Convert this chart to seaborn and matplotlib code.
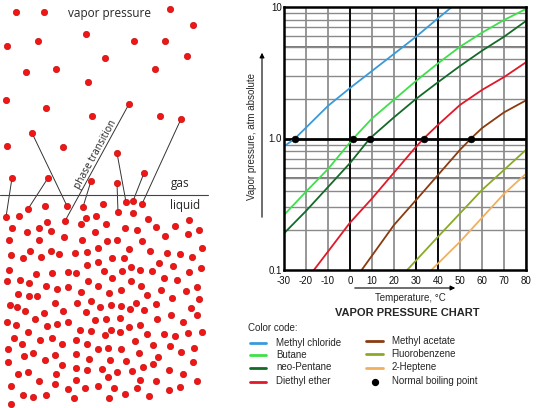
import numpy as np
import pandas as pd
import matplotlib
matplotlib.use("Agg")
import matplotlib.pyplot as plt
import seaborn as sns
from matplotlib.ticker import FixedLocator, NullFormatter

sns.set_theme(style="white")
plt.rcParams["font.family"] = ["Liberation Sans", "DejaVu Sans"]

# ---------------- left panel: molecules (pixel coordinates of the picture) -------------
gas_x = [16, 44, 170, 193, 7, 38, 86, 134, 165, 187, 105, 26, 56, 155, 88, 6, 46, 129, 92,
         160, 181, 32, 7, 63, 117, 144, 12, 48, 91, 117]
gas_y = [12, 12, 9, 25, 46, 41, 34, 41, 41, 56, 58, 72, 69, 69, 82, 100, 108, 104, 116,
         116, 119, 133, 146, 147, 153, 173, 178, 178, 181, 183]

liq_x = [6, 19, 28, 45, 67, 83, 103, 126, 133, 142, 118, 133, 65, 86, 96, 81, 47, 12, 27, 39,
         51, 64, 82, 95, 106, 125, 137, 148, 156, 165, 175, 189, 188, 199, 9, 39, 107, 117, 142,
         11, 23, 30, 41, 51, 59, 75, 87, 98, 129, 112, 124, 150, 167, 180, 192, 202, 9, 36, 52,
         68, 76, 87, 98, 104, 112, 122, 131, 140, 152, 159, 173, 189, 201, 7, 20, 29, 46, 57, 68,
         81, 88, 98, 109, 121, 131, 141, 147, 161, 164, 177, 186, 197, 199, 18, 29, 37, 172,
         10, 17, 25, 55, 77, 91, 100, 111, 121, 130, 136, 144, 156, 191, 7, 16, 35, 44, 63, 86,
         47, 57, 68, 95, 106, 120, 129, 140, 157, 171, 183, 197, 14, 28, 22, 40, 52, 62, 80, 91,
         105, 111, 120, 135, 147, 164, 175, 188, 202, 8, 24, 33, 45, 55, 76, 87, 98, 108, 121,
         139, 153, 158, 170, 181, 194, 8, 18, 28, 39, 56, 62, 76, 76, 89, 87, 102, 110, 117, 108,
         126, 132, 143, 153, 140, 156, 169, 183, 193, 197, 11, 23, 33, 46, 55, 68, 74, 76, 85,
         98, 114, 109, 125, 137, 149, 169, 180, 11]
liq_y = [217, 216, 209, 206, 206, 207, 204, 202, 201, 204, 212, 213, 221, 218, 216, 224, 222,
         228, 232, 228, 231, 237, 240, 232, 224, 228, 230, 219, 227, 236, 226, 220, 234, 230,
         240, 240, 241, 240, 241, 255, 258, 251, 257, 251, 254, 253, 252, 248, 249, 258, 258,
         251, 253, 254, 257, 248, 270, 274, 273, 272, 273, 265, 262, 271, 278, 271, 267, 270,
         271, 263, 266, 272, 268, 281, 280, 283, 286, 289, 287, 292, 281, 286, 293, 290, 281,
         286, 295, 290, 278, 280, 291, 287, 299, 294, 296, 296, 298, 305, 307, 311, 303, 303,
         301, 307, 305, 306, 309, 303, 310, 304, 308, 322, 325, 319, 313, 311, 312, 326, 324,
         322, 320, 319, 318, 327, 325, 319, 315, 322, 315, 338, 332, 344, 340, 338, 344, 330,
         331, 335, 330, 332, 341, 334, 334, 336, 333, 332, 349, 356, 353, 360, 355, 340, 344,
         349, 348, 349, 353, 345, 357, 346, 352, 348, 362, 374, 372, 381, 374, 365, 354, 368,
         359, 370, 369, 360, 372, 377, 361, 371, 367, 364, 380, 381, 370, 374, 362, 381, 386,
         395, 397, 395, 384, 389, 398, 380, 388, 386, 388, 398, 394, 388, 396, 390, 387, 404]

# connectors from vapour molecules to the surface: (x0, y0, x1, y1)
link_x0 = [32, 12, 48, 129, 91, 117, 117, 144, 181]
link_y0 = [133, 178, 178, 104, 181, 153, 183, 173, 119]
link_x1 = [67, 6, 28, 65, 83, 126, 118, 133, 142]
link_y1 = [206, 217, 209, 221, 207, 202, 212, 201, 204]

# ---------------- right panel: vapor pressure chart --------------------------------------
substances = ["Methyl chloride", "Butane", "neo-Pentane", "Diethyl ether",
              "Methyl acetate", "Fluorobenzene", "2-Heptene"]
colors = ["#3a9ad9", "#3ee04a", "#146a28", "#e0182a", "#8a3b10", "#8aaa26", "#f0b060"]

mc_T = [-30, -25, -10, 0, 20, 30, 40, 46.3]
mc_P = [0.87, 1.0, 1.77, 2.42, 4.4, 5.94, 8.2, 10.0]
bu_T = [-30, -20, -10, 1.5, 10, 30, 40, 50, 60, 70, 80]
bu_P = [0.262, 0.394, 0.586, 1.0, 1.42, 2.74, 3.73, 4.99, 6.38, 7.96, 9.66]
np_T = [-30, -20, 0, 9, 20, 30, 40, 50, 60, 70, 80]
np_P = [0.19, 0.281, 0.65, 1.0, 1.45, 2.0, 2.68, 3.56, 4.65, 5.94, 7.83]
de_T = [-16.4, 0, 10, 28.8, 33.5, 40, 50, 60, 70, 80]
de_P = [0.1, 0.229, 0.35, 0.82, 1.0, 1.27, 1.8, 2.34, 2.93, 3.8]
ma_T = [5.3, 20, 30, 50, 55, 60, 70, 80]
ma_P = [0.1, 0.22, 0.34, 0.82, 1.0, 1.2, 1.58, 1.95]
fb_T = [26, 40, 60, 80]
fb_P = [0.1, 0.179, 0.406, 0.82]
hp_T = [37, 50, 70, 80]
hp_P = [0.1, 0.164, 0.38, 0.54]

bp_T = [-25, 1.5, 9, 33.5, 55]
bp_P = [1.0, 1.0, 1.0, 1.0, 1.0]

x_ticks = [-30, -20, -10, 0, 10, 20, 30, 40, 50, 60, 70, 80]
x_labels = ["-30", "-20", "-10", "0", "10", "20", "30", "40", "50", "60", "70", "80"]
y_ticks = [0.1, 1.0, 10.0]
y_labels = ["0.1", "1.0", "10"]

curve_T = [mc_T, bu_T, np_T, de_T, ma_T, fb_T, hp_T]
curve_P = [mc_P, bu_P, np_P, de_P, ma_P, fb_P, hp_P]
df = pd.concat([pd.DataFrame({"T": t, "P": p, "substance": s})
                for t, p, s in zip(curve_T, curve_P, substances)], ignore_index=True)

# ---------------- figure -----------------------------------------------------------------
fig = plt.figure(figsize=(5.4, 4.08), dpi=100)
ax0 = fig.add_axes([0, 0, 1, 1])
ax0.set_xlim(0, 540)
ax0.set_ylim(408, 0)
ax0.axis("off")

for x0, y0, x1, y1 in zip(link_x0, link_y0, link_x1, link_y1):
    ax0.plot([x0, x1], [y0, y1], color="#333333", lw=0.7, zorder=2)
ax0.plot([0, 208], [195, 195], color="#444444", lw=0.8, zorder=2)

dot_kw = dict(color="#f21515", edgecolor="#b80000", linewidth=0.4, s=21, zorder=3, ax=ax0,
              legend=False)
sns.scatterplot(x=gas_x, y=gas_y, **dot_kw)
sns.scatterplot(x=liq_x, y=liq_y, **dot_kw)

lfont = ["Open Sans", "DejaVu Sans"]
ax0.text(110, 14, "vapor pressure", ha="center", va="center", fontsize=8.5, family=lfont)
ax0.text(180, 184, "gas", ha="center", va="center", fontsize=8.5, family=lfont)
ax0.text(185, 205, "liquid", ha="center", va="center", fontsize=8.5, family=lfont)
ang = np.degrees(np.arctan2(221 - 104, 129 - 65))
ax0.text(96, 155, "phase transition", ha="center", va="center", fontsize=7.3,
         rotation=ang, rotation_mode="anchor", family=lfont)

# chart
ax = fig.add_axes([284 / 540, (408 - 270) / 408, 242 / 540, 263 / 408])
ax.set_yscale("log")
ax.set_xlim(-30, 80)
ax.set_ylim(0.1, 10)
ax.set_xticks(x_ticks)
ax.set_xticklabels(x_labels)
ax.yaxis.set_major_locator(FixedLocator(y_ticks))
ax.set_yticklabels(y_labels)
ax.yaxis.set_minor_locator(FixedLocator([k * 10.0 ** d for d in (-1, 0) for k in range(2, 10)]))
ax.yaxis.set_minor_formatter(NullFormatter())
ax.tick_params(axis="both", which="both", length=0, labelsize=7, colors="#111111")
ax.tick_params(axis="x", pad=4.5)
ax.tick_params(axis="y", pad=1.5)
ax.grid(True, which="major", axis="x", color="#7a7a7a", lw=1.1, zorder=0)
ax.grid(True, which="minor", axis="y", color="#8a8a8a", lw=1.0, zorder=0)
for yv in (0.5, 5):
    ax.axhline(yv, color="#555555", lw=1.1, zorder=0.5)
for xv in (0, 30, 40):
    ax.axvline(xv, color="black", lw=1.3, zorder=0.6)
ax.axhline(1.0, color="black", lw=2.0, zorder=0.7)
for sp in ax.spines.values():
    sp.set_color("black")
    sp.set_linewidth(1.8)

sns.lineplot(data=df, x="T", y="P", hue="substance", hue_order=substances,
             palette=dict(zip(substances, colors)), estimator=None, lw=1.3,
             legend=False, ax=ax, zorder=2)
sns.scatterplot(x=bp_T, y=bp_P, color="black", s=24, edgecolor="black", zorder=5,
                ax=ax, legend=False)
ax.set_xlabel("")
ax.set_ylabel("")

# axis captions and arrows
ax0.annotate("", xy=(458, 288), xytext=(352, 288),
             arrowprops=dict(arrowstyle="-|>", color="black", lw=0.8, mutation_scale=7))
ax0.annotate("", xy=(262, 50), xytext=(262, 220),
             arrowprops=dict(arrowstyle="-|>", color="black", lw=0.8, mutation_scale=7))
ax0.text(410, 298, "Temperature, °C", ha="center", va="center", fontsize=7)
ax0.text(252, 137, "Vapor pressure, atm absolute", ha="center", va="center",
         fontsize=7, rotation=90)
ax0.text(407, 313.5, "VAPOR PRESSURE CHART", ha="center", va="center", fontsize=8,
         fontweight="bold")

# colour code legend
ax0.text(248, 328, "Color code:", ha="left", va="center", fontsize=7)
rows1 = [342.5, 354.5, 367.5, 381.5]
rows2 = [341, 354, 367.5]
for i in range(4):
    ax0.plot([250, 266], [rows1[i], rows1[i]], color=colors[i], lw=2)
    ax0.text(276, rows1[i], substances[i], ha="left", va="center", fontsize=7)
for i in range(3):
    ax0.plot([366, 383], [rows2[i], rows2[i]], color=colors[4 + i], lw=2)
    ax0.text(391.5, rows2[i], substances[4 + i], ha="left", va="center", fontsize=7)
ax0.scatter([374.5], [381.5], color="black", s=18)
ax0.text(391.5, 381.5, "Normal boiling point", ha="left", va="center", fontsize=7)

fig.savefig("out.png", dpi=100)
